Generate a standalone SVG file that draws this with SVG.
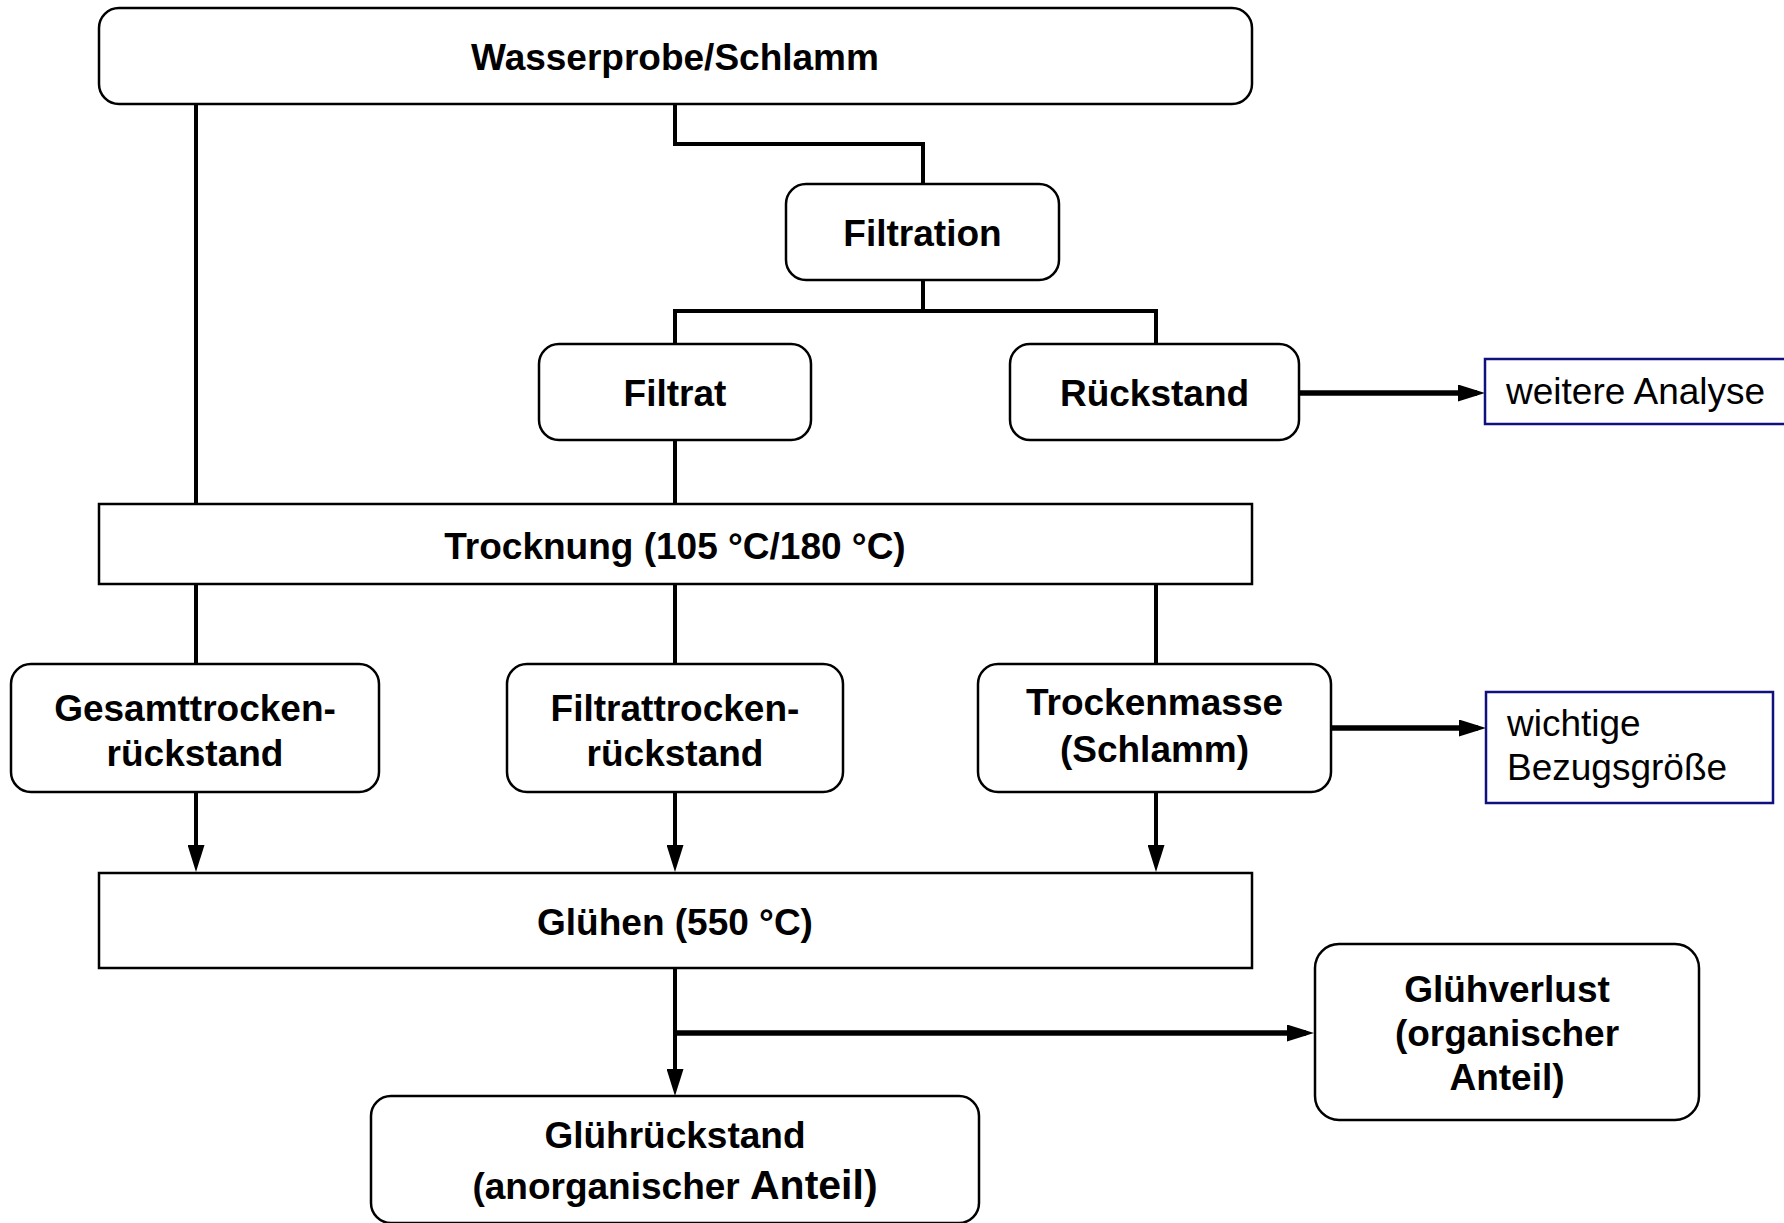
<svg xmlns="http://www.w3.org/2000/svg" width="1784" height="1223" viewBox="0 0 1784 1223">
<defs>
<marker id="arr" markerUnits="userSpaceOnUse" markerWidth="27" markerHeight="17" refX="19" refY="8.5" orient="auto">
<path d="M0,0 L27,8.5 L0,17 z" fill="#000"/>
</marker>
<style>
.box{fill:#fff;stroke:#000;stroke-width:2.5}
.note{fill:#fff;stroke:#10107f;stroke-width:2.5}
.t{font-family:"Liberation Sans",Arial,sans-serif;font-weight:bold;font-size:37px;text-anchor:middle;fill:#000}
.r{font-family:"Liberation Sans",Arial,sans-serif;font-size:37px;fill:#000}
.c{fill:none;stroke:#000;stroke-width:4}
.ct{fill:none;stroke:#000;stroke-width:5.5}
</style>
</defs>
<rect width="1784" height="1223" fill="#fff"/>
<g id="connectors">
<path class="c" d="M196 104 V504"/>
<path class="c" d="M675 104 V144 H923 V184"/>
<path class="c" d="M923 280 V311"/>
<path class="c" d="M675 344 V311 H1156 V344"/>
<path class="c" d="M675 440 V504"/>
<path class="ct" d="M1299 393 H1477" marker-end="url(#arr)"/>
<path class="c" d="M196 584 V664"/>
<path class="c" d="M675 584 V664"/>
<path class="c" d="M1156 584 V664"/>
<path class="ct" d="M1331 728 H1478" marker-end="url(#arr)"/>
<path class="c" d="M196 792 V864" marker-end="url(#arr)"/>
<path class="c" d="M675 792 V864" marker-end="url(#arr)"/>
<path class="c" d="M1156 792 V864" marker-end="url(#arr)"/>
<path class="c" d="M675 968 V1088" marker-end="url(#arr)"/>
<path class="ct" d="M675 1033 H1306" marker-end="url(#arr)"/>
</g>
<g id="wasserprobe">
<rect class="box" x="99" y="8" width="1153" height="96" rx="20"/>
<text class="t" x="675" y="70">Wasserprobe/Schlamm</text>
</g>
<g id="filtration">
<rect class="box" x="786" y="184" width="273" height="96" rx="20"/>
<text class="t" x="922.5" y="246">Filtration</text>
</g>
<g id="filtrat">
<rect class="box" x="539" y="344" width="272" height="96" rx="20"/>
<text class="t" x="675" y="406">Filtrat</text>
</g>
<g id="rueckstand">
<rect class="box" x="1010" y="344" width="289" height="96" rx="20"/>
<text class="t" x="1154.5" y="406">Rückstand</text>
</g>
<g id="weitere">
<rect class="note" x="1485" y="359" width="310" height="65"/>
<text class="r" x="1506" y="404">weitere Analyse</text>
</g>
<g id="trocknung">
<rect class="box" x="99" y="504" width="1153" height="80"/>
<text class="t" x="675" y="559">Trocknung (105 °C/180 °C)</text>
</g>
<g id="gesamt">
<rect class="box" x="11" y="664" width="368" height="128" rx="20"/>
<text class="t" x="195" y="721">Gesamttrocken-</text>
<text class="t" x="195" y="766">rückstand</text>
</g>
<g id="filtrattrocken">
<rect class="box" x="507" y="664" width="336" height="128" rx="20"/>
<text class="t" x="675" y="721">Filtrattrocken-</text>
<text class="t" x="675" y="766">rückstand</text>
</g>
<g id="trockenmasse">
<rect class="box" x="978" y="664" width="353" height="128" rx="20"/>
<text class="t" x="1154.5" y="715">Trockenmasse</text>
<text class="t" x="1154.5" y="762">(Schlamm)</text>
</g>
<g id="wichtige">
<rect class="note" x="1486" y="692" width="287" height="111"/>
<text class="r" x="1507" y="736">wichtige</text>
<text class="r" x="1507" y="780">Bezugsgröße</text>
</g>
<g id="gluehen">
<rect class="box" x="99" y="873" width="1153" height="95"/>
<text class="t" x="675" y="935">Glühen (550 °C)</text>
</g>
<g id="gluehverlust">
<rect class="box" x="1315" y="944" width="384" height="176" rx="24"/>
<text class="t" x="1507" y="1002">Glühverlust</text>
<text class="t" x="1507" y="1046">(organischer</text>
<text class="t" x="1507" y="1090">Anteil)</text>
</g>
<g id="gluehrueckstand">
<rect class="box" x="371" y="1096" width="608" height="127" rx="20"/>
<text class="t" x="675" y="1148">Glührückstand</text>
<text class="t" x="675" y="1199">(anorganischer <tspan font-size="41">Anteil)</tspan></text>
</g>
</svg>
